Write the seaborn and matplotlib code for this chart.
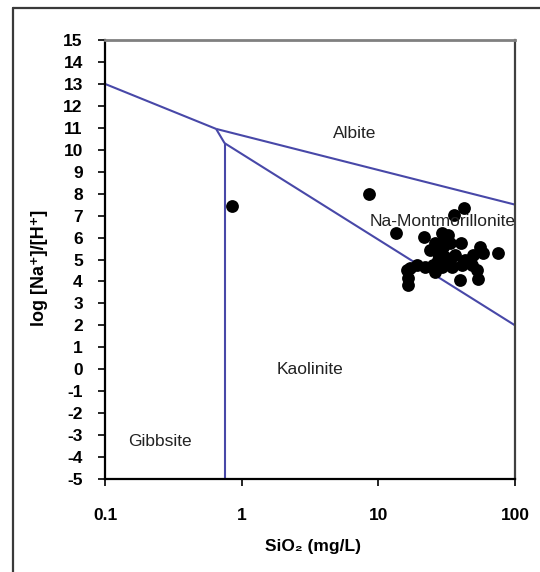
import matplotlib
matplotlib.use("Agg")
import matplotlib.pyplot as plt
from matplotlib.lines import Line2D
import seaborn as sns
import pandas as pd

# Sample chemistry: SiO2 (mg/L) and log [Na+]/[H+]
sio2 = [0.85, 8.5, 42.4, 35.8, 13.5, 21.6, 29.2, 32.4, 26.0, 29.7, 33.4, 40.3,
        55.4, 75.1, 58.3, 49.3, 43.1, 36.4, 30.7, 27.3, 25.1, 29.2, 34.6, 41.0,
        48.4, 21.9, 19.2, 17.1, 16.2, 26.0, 52.7, 53.6, 39.6, 16.5, 16.5, 23.9,
        30.7, 27.3, 33.4]
log_na_h = [7.44, 7.98, 7.35, 7.03, 6.21, 6.03, 6.21, 6.12, 5.75, 5.57, 5.75, 5.75,
            5.57, 5.30, 5.30, 5.20, 4.98, 5.20, 5.11, 4.98, 4.75, 4.66, 4.66, 4.75,
            4.75, 4.66, 4.75, 4.61, 4.52, 4.43, 4.52, 4.11, 4.07, 4.16, 3.84, 5.43,
            5.89, 5.30, 4.89]

# Stability field boundaries
gibbsite_albite_x = [0.1, 0.65]
gibbsite_albite_y = [13.0, 10.95]
albite_montm_x = [0.65, 100]
albite_montm_y = [10.95, 7.5]
junction_x = [0.65, 0.75]
junction_y = [10.95, 10.3]
kaolinite_montm_x = [0.75, 100]
kaolinite_montm_y = [10.3, 2.0]
gibbsite_kaolinite_x = [0.75, 0.75]
gibbsite_kaolinite_y = [10.3, -5.0]

# Field names and their positions
field_names = ["Albite", "Na-Montmorillonite", "Kaolinite", "Gibbsite"]
field_x = [6.75, 29.5, 3.16, 0.252]
field_y = [10.76, 6.75, 0.0, -3.31]

y_ticks = list(range(-5, 16))
x_ticks = [0.1, 1, 10, 100]
x_tick_labels = ["0.1", "1", "10", "100"]

sns.set_theme(style="white")
plt.rcParams["font.family"] = ["Liberation Sans", "DejaVu Sans"]

fig = plt.figure(figsize=(5.4, 5.72), dpi=100)
ax = fig.add_axes([105 / 540, 1 - 479 / 572, 410 / 540, 439 / 572])

line_color = "#4848a8"
for bx, by in [(gibbsite_albite_x, gibbsite_albite_y),
               (albite_montm_x, albite_montm_y),
               (junction_x, junction_y),
               (kaolinite_montm_x, kaolinite_montm_y),
               (gibbsite_kaolinite_x, gibbsite_kaolinite_y)]:
    ax.plot(bx, by, color=line_color, lw=1.5, solid_capstyle="butt", zorder=2)

df = pd.DataFrame({"SiO2": sio2, "logNaH": log_na_h})
sns.scatterplot(data=df, x="SiO2", y="logNaH", ax=ax, color="black",
                s=85, edgecolor="black", linewidth=0, zorder=3, legend=False)

for name, tx, ty in zip(field_names, field_x, field_y):
    ax.text(tx, ty, name, ha="center", va="center", fontsize=12.5,
            color="#222222", zorder=4)

ax.set_xscale("log")
ax.set_xlim(0.1, 100)
ax.set_ylim(-5, 15)
ax.set_xticks(x_ticks)
ax.set_xticklabels(x_tick_labels)
ax.xaxis.set_minor_locator(matplotlib.ticker.NullLocator())
ax.set_yticks(y_ticks)
ax.set_yticklabels([str(v) for v in y_ticks])

ax.tick_params(axis="x", which="major", direction="out", length=5, width=1.2,
               color="black", pad=16, labelsize=12.5)
ax.tick_params(axis="y", which="major", direction="out", length=5, width=1.2,
               color="black", pad=11, labelsize=12.5)
ax.tick_params(bottom=True, left=True, top=False, right=False)
for lab in ax.get_xticklabels() + ax.get_yticklabels():
    lab.set_fontweight("bold")
    lab.set_color("black")

ax.set_xlabel("")
ax.set_ylabel("")
for side in ["left", "bottom"]:
    ax.spines[side].set_color("black")
    ax.spines[side].set_linewidth(1.6)
ax.spines["top"].set_color("#808080")
ax.spines["top"].set_linewidth(2.0)
ax.spines["right"].set_color("#404040")
ax.spines["right"].set_linewidth(1.6)

fig.text(313 / 540, 1 - 546 / 572, "SiO\u2082 (mg/L)", ha="center", va="center",
         fontsize=12.5, fontweight="bold", color="black")
fig.text(40 / 540, 1 - 268 / 572, "log [Na\u207a]/[H\u207a]", ha="center",
         va="center", rotation=90, fontsize=13, fontweight="bold", color="black")

# Chart frame (top and left edges)
fig.add_artist(Line2D([13 / 540, 13 / 540], [0, 1 - 8 / 572],
                      transform=fig.transFigure, color="#3a3a3a", lw=1.6))
fig.add_artist(Line2D([13 / 540, 1], [1 - 8 / 572, 1 - 8 / 572],
                      transform=fig.transFigure, color="#3a3a3a", lw=1.6))

fig.savefig("out.png", dpi=100, facecolor="white")
